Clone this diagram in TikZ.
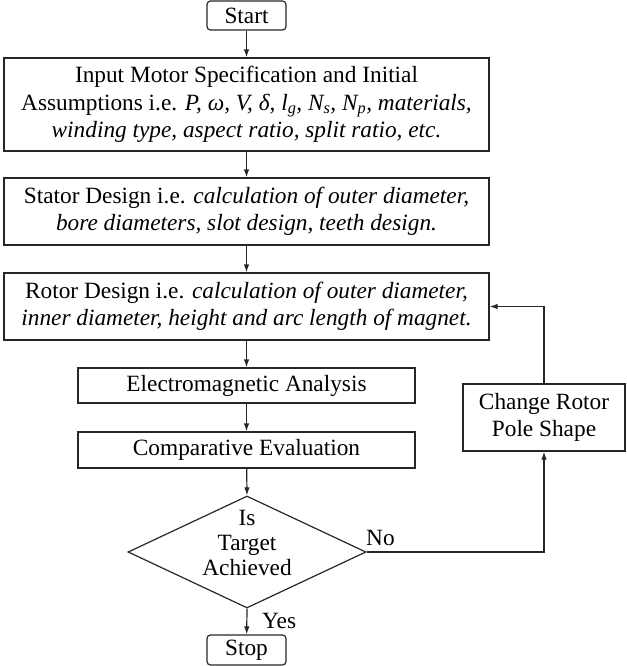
\documentclass[tikz,border=0pt]{standalone}
\usepackage{fontspec}
\setmainfont{Liberation Serif}
\usetikzlibrary{arrows.meta,shapes.geometric}
\newcommand{\mysub}[1]{\textsubscript{\textit{#1}}}
\begin{document}
\begin{tikzpicture}[x=1pt,y=-1pt,
  line/.style={draw=black!85,line width=1.2pt},
  arr/.style={line,-{Latex[length=8pt,width=5.5pt]}},
  box/.style={line,rectangle,inner sep=0pt,align=center,font=\fontsize{23.3}{27.5}\selectfont},
  term/.style={box,rounded corners=3.5pt,minimum width=79pt,minimum height=29pt},
  lbl/.style={inner sep=0pt,font=\fontsize{23.3}{27.5}\selectfont}]
\useasboundingbox (0,0) rectangle (626,666);
\node[term] (start) at (246.5,15.5) {Start};
\node[box,minimum width=485pt,minimum height=93pt] (input) at (246.5,104.5)
 {Input Motor Specification and Initial\\
  Assumptions i.e. \textit{P, ω, V, δ, l\mysub{g}, N\mysub{s}, N\mysub{p}, materials,}\\
  \textit{winding type, aspect ratio, split ratio, etc.}};
\node[box,minimum width=485pt,minimum height=67pt] (stator) at (246.5,211.5)
 {Stator Design i.e. \textit{calculation of outer diameter,}\\
  \textit{bore diameters, slot design, teeth design.}};
\node[box,minimum width=485pt,minimum height=67pt] (rotor) at (246.5,306.5)
 {Rotor Design i.e. \textit{calculation of outer diameter,}\\
  \textit{inner diameter, height and arc length of magnet.}};
\node[box,minimum width=337pt,minimum height=35pt] (em) at (246.5,385.5) {Electromagnetic Analysis};
\node[box,minimum width=337pt,minimum height=36pt] (comp) at (246.5,450) {Comparative Evaluation};
\node[line,diamond,minimum width=238pt,minimum height=112pt,inner sep=0pt] (dec) at (247,552) {};
\node[lbl,align=center,font=\fontsize{23.3}{25}\selectfont] (dectext) at (247,543) {Is\\Target\\Achieved};
\node[box,minimum width=162pt,minimum height=67pt] (change) at (544,417.5) {Change Rotor\\Pole Shape};
\node[term,minimum height=30pt] (stop) at (246.5,650) {Stop};
\draw[arr] (start) -- (input);
\draw[arr] (input) -- (stator);
\draw[arr] (stator) -- (rotor);
\draw[arr] (rotor) -- (em);
\draw[arr] (em) -- (comp);
\draw[arr] (comp) -- (dec.north);
\draw[arr] (dec.south) -- (stop);
\draw[arr] (dec.east) -| (change.south);
\draw[arr] (change.north) |- (rotor.east);
\node[lbl,anchor=base west] (no) at (366,545) {No};
\node[lbl,anchor=base west] (yes) at (262,628) {Yes};
\end{tikzpicture}
\end{document}
